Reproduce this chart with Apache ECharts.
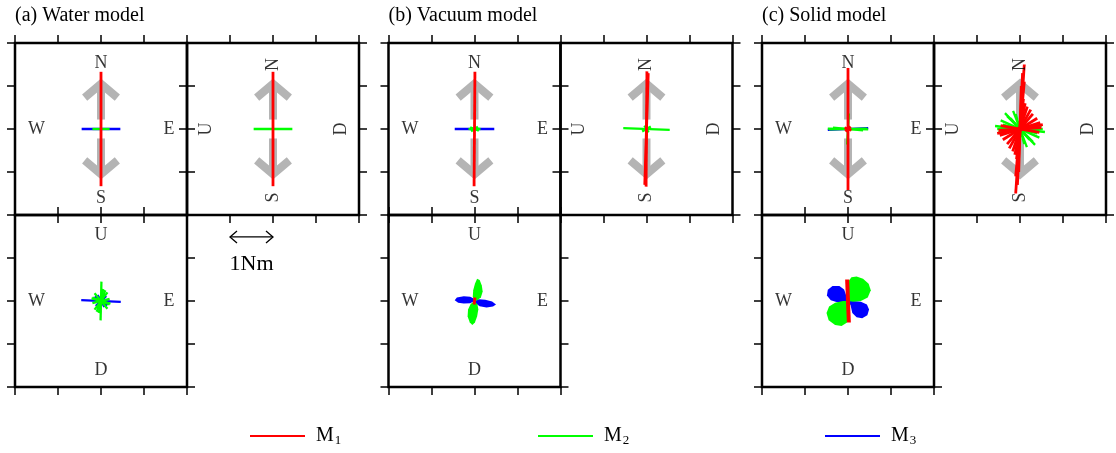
<!DOCTYPE html>
<html>
<head>
<meta charset="utf-8">
<script src="https://cdn.jsdelivr.net/npm/echarts@6/dist/echarts.min.js"></script>
<style>
  html, body { margin: 0; background: #fff; }
  #chart { width: 1116px; height: 453px; }
</style>
</head>
<body>
<div id="chart"></div>
<script>
// every vector is given in Nm, as one end of a segment drawn from -p to +p
// views: EN = E right / N up, DN = D right (U left) / N up, EU = E right / U up

// (a) water model
var waterEN_M1 = [[0, 1.33]];
var waterEN_M2 = [[0.2, 0]];
var waterEN_M3 = [[0.45, 0]];
var waterDN_M1 = [[0, 1.33]];
var waterDN_M2 = [[0.45, 0]];
var waterEU_M2 = [[0.01, 0.45], [0.2, 0.05], [0.15, 0.2], [-0.15, 0.18], [0.1, 0.25], [0.22, -0.06], [0.05, 0.28], [-0.2, 0.08]];
var waterEU_M3 = [[0.46, -0.02], [0.09, 0.16], [0.12, 0.12], [0.15, -0.1], [-0.08, 0.14]];

// (b) vacuum model
var vacuumEN_M1 = [[0.01, 1.33]];
var vacuumEN_M2 = [[0.14, 0], [0.08, 0.05], [0.1, -0.04]];
var vacuumEN_M3 = [[0.46, 0]];
var vacuumDN_M1 = [[0.01, 1.34], [0.04, 1.3]];
var vacuumDN_M2 = [[0.54, -0.02], [0.1, 0.06], [0.05, -0.08]];
var vacuumEU_M1 = [[0.01, 0.08]];
var vacuumEU_M2 = [
  [[0, 0], [-0.04, 0.1], [-0.03, 0.25], [0.01, 0.4], [0.06, 0.52], [0.12, 0.49], [0.17, 0.36], [0.19, 0.22], [0.15, 0.09], [0.07, 0.02]],
  [[0, 0], [0.07, -0.08], [0.09, -0.2], [0.06, -0.36], [0.01, -0.5], [-0.05, -0.56], [-0.11, -0.5], [-0.16, -0.36], [-0.15, -0.2], [-0.09, -0.07]]
];
var vacuumEU_M3 = [
  [[0, 0], [-0.1, -0.05], [-0.25, -0.06], [-0.38, -0.04], [-0.46, 0.02], [-0.41, 0.08], [-0.25, 0.11], [-0.1, 0.1], [-0.02, 0.06]],
  [[0, 0], [0.1, 0.04], [0.25, 0.03], [0.41, -0.01], [0.5, -0.08], [0.43, -0.13], [0.28, -0.15], [0.12, -0.12], [0.03, -0.06]]
];

// (c) solid model
var solidEN_M1 = [[0, 1.42], [0.06, 0.06], [0.08, -0.03]];
var solidEN_M2 = [[0.47, -0.01], [0.44, 0.01], [0.35, -0.03], [0.02, 0.36]];
var solidEN_M3 = [[0.47, 0.02]];
var solidDN_M1 = [[0.1, 1.5], [0.06, 1.3], [0.1, 1.1], [0.03, 1.0], [0.08, 0.7], [0.12, 0.6], [0.53, 0.1], [0.5, 0.03],
  [0.47, 0.15], [0.4, 0.25], [0.3, 0.35], [0.45, -0.08], [0.35, 0.05], [0.25, 0.45], [0.17, 0.52]];
var solidDN_M2 = [[0.58, -0.07], [0.53, 0], [0.35, -0.37], [0.3, -0.3], [0.16, -0.42], [0.45, -0.2], [0.5, 0.08],
  [0.22, -0.25], [0.4, -0.1], [0.1, -0.35]];
var solidEU_M1 = [[-0.02, 0.5]];
var solidEU_M2 = [
  [[0, 0], [-0.02, 0.2], [0, 0.45], [0.08, 0.55], [0.2, 0.57], [0.35, 0.52], [0.48, 0.4], [0.53, 0.25], [0.46, 0.08], [0.3, 0], [0.12, -0.02]],
  [[0, 0], [-0.12, 0], [-0.3, -0.04], [-0.44, -0.13], [-0.5, -0.28], [-0.45, -0.45], [-0.3, -0.56], [-0.15, -0.58], [-0.02, -0.5], [0.02, -0.3], [0.02, -0.1]]
];
var solidEU_M3 = [
  [[0, 0], [-0.1, -0.03], [-0.25, -0.03], [-0.4, 0.02], [-0.49, 0.13], [-0.47, 0.26], [-0.36, 0.35], [-0.2, 0.35], [-0.09, 0.27], [-0.04, 0.12]],
  [[0, 0], [0.06, -0.1], [0.1, -0.28], [0.2, -0.38], [0.33, -0.4], [0.45, -0.33], [0.49, -0.2], [0.44, -0.08], [0.3, -0.02], [0.12, 0]]
];

// applied N-S stress arrow: shaft start and tip (Nm units)
var stressArrow = [0.22, 1.05];
var scaleBarNm = 1;

var titles = ['(a) Water model', '(b) Vacuum model', '(c) Solid model'];
var legendNames = ['M1', 'M2', 'M3'];
var labelsEN = [['N', 0, 1.52], ['S', 0, -1.6], ['W', -1.5, 0], ['E', 1.58, 0]];
var labelsDN = [['N', 0, 1.5], ['S', 0, -1.59], ['U', -1.56, 0], ['D', 1.58, 0]];
var labelsEU = [['U', 0, 1.53], ['D', 0, -1.62], ['W', -1.5, 0], ['E', 1.58, 0]];

var FONT = 'Liberation Serif';
var RED = '#ff0000', GREEN = '#00ff00', BLUE = '#0000ff', GRAY = '#b4b4b4';
var groupLeft = [15, 388.5, 762];
var legendLeft = [245, 533, 820];
var size = 172;

var grids = [], xAxes = [], yAxes = [], series = [];

function axisBase(g, pos) {
  return {
    gridIndex: g, type: 'value', position: pos, min: -2, max: 2, interval: 1,
    axisLine: { show: false, onZero: false },
    axisTick: { show: true, inside: false, length: 8, lineStyle: { color: '#000', width: 1.5 } },
    axisLabel: { show: false },
    splitLine: { show: false }
  };
}

function addGrid(left, top) {
  var g = grids.length;
  grids.push({
    left: left, top: top, width: size, height: size,
    show: true, borderColor: '#000', borderWidth: 2.5,
    containLabel: false, outerBoundsMode: 'none'
  });
  xAxes.push(axisBase(g, 'bottom'), axisBase(g, 'top'));
  yAxes.push(axisBase(g, 'left'), axisBase(g, 'right'));
  return g;
}

function segs(name, g, data, color, width, z) {
  return {
    type: 'custom', name: name, xAxisIndex: 2 * g, yAxisIndex: 2 * g,
    data: data, z: z, silent: true, clip: false,
    itemStyle: { color: color },
    renderItem: function (params, api) {
      var x = api.value(0), y = api.value(1);
      var a = api.coord([-x, -y]), b = api.coord([x, y]);
      return {
        type: 'line',
        shape: { x1: a[0], y1: a[1], x2: b[0], y2: b[1] },
        style: { stroke: color, lineWidth: width }
      };
    }
  };
}

function lobes(name, g, polys, color, z) {
  return {
    type: 'custom', name: name, xAxisIndex: 2 * g, yAxisIndex: 2 * g,
    data: polys.map(function (p, i) { return [i, 0]; }), z: z, silent: true, clip: false,
    itemStyle: { color: color },
    renderItem: function (params, api) {
      var pts = polys[params.dataIndex].map(function (p) { return api.coord(p); });
      return { type: 'polygon', shape: { points: pts }, style: { fill: color } };
    }
  };
}

function stress(g) {
  return {
    type: 'custom', xAxisIndex: 2 * g, yAxisIndex: 2 * g, z: 1, silent: true, clip: false,
    data: [stressArrow],
    renderItem: function (params, api) {
      var from = api.value(0), tip = api.value(1);
      var children = [];
      [1, -1].forEach(function (s) {
        var p0 = api.coord([0, s * from]), p1 = api.coord([0, s * (tip - 0.05)]);
        children.push({ type: 'line', shape: { x1: p0[0], y1: p0[1], x2: p1[0], y2: p1[1] },
          style: { stroke: GRAY, lineWidth: 8 } });
        children.push({ type: 'polyline',
          shape: { points: [api.coord([-0.38, s * (tip - 0.32)]), api.coord([0, s * tip]), api.coord([0.38, s * (tip - 0.32)])] },
          style: { stroke: GRAY, lineWidth: 8, fill: null, lineJoin: 'miter' } });
      });
      return { type: 'group', children: children };
    }
  };
}

function labels(g, items, rotate) {
  return {
    type: 'scatter', xAxisIndex: 2 * g, yAxisIndex: 2 * g, symbolSize: 0, silent: true, z: 6,
    data: items.map(function (it) { return { value: [it[1], it[2]], label: { formatter: it[0] } }; }),
    label: { show: true, position: 'inside', rotate: rotate, color: '#000', fontFamily: FONT, fontSize: 18 }
  };
}

var models = [
  { EN: [waterEN_M1, waterEN_M2, waterEN_M3], DN: [waterDN_M1, waterDN_M2, []], EU: [[], waterEU_M2, waterEU_M3], lobes: null },
  { EN: [vacuumEN_M1, vacuumEN_M2, vacuumEN_M3], DN: [vacuumDN_M1, vacuumDN_M2, []], EU: [vacuumEU_M1, [], []], lobes: [vacuumEU_M2, vacuumEU_M3] },
  { EN: [solidEN_M1, solidEN_M2, solidEN_M3], DN: [solidDN_M1, solidDN_M2, []], EU: [solidEU_M1, [], []], lobes: [solidEU_M2, solidEU_M3] }
];
var colors = [RED, GREEN, BLUE];
var zs = [5, 4, 3];

models.forEach(function (m, i) {
  var x0 = groupLeft[i];
  var gEN = addGrid(x0, 43);
  var gDN = addGrid(x0 + size, 43);
  var gEU = addGrid(x0, 43 + size);

  series.push(stress(gEN), stress(gDN));
  [[gEN, m.EN], [gDN, m.DN], [gEU, m.EU]].forEach(function (pair) {
    pair[1].forEach(function (d, k) {
      if (!d.length) return;
      var w = k === 0 ? 2.8 : 2.3;
      if (pair[0] === gEU && k === 0) w = i === 2 ? 4 : 3;
      series.push(segs(legendNames[k], pair[0], d, colors[k], w, zs[k]));
    });
  });
  if (m.lobes) {
    series.push(lobes('M3', gEU, m.lobes[1], BLUE, 3));
    series.push(lobes('M2', gEU, m.lobes[0], GREEN, 4));
  }
  series.push(labels(gEN, labelsEN, 0), labels(gDN, labelsDN, 90), labels(gEU, labelsEU, 0));
});

// scale bar under the first N-S / U-D panel
series.push({
  type: 'custom', xAxisIndex: 2, yAxisIndex: 2, z: 6, silent: true, clip: false,
  data: [[scaleBarNm, 0]],
  renderItem: function (params, api) {
    var L = api.value(0);
    var a = api.coord([-1, -2.51]), b = api.coord([-1 + L, -2.51]), t = api.coord([-1 + L / 2, -3.15]);
    var st = { stroke: '#000', lineWidth: 1.3, fill: null };
    return { type: 'group', children: [
      { type: 'line', shape: { x1: a[0], y1: a[1], x2: b[0], y2: b[1] }, style: st },
      { type: 'polyline', shape: { points: [[a[0] + 7, a[1] - 6], a, [a[0] + 7, a[1] + 6]] }, style: st },
      { type: 'polyline', shape: { points: [[b[0] - 7, b[1] - 6], b, [b[0] - 7, b[1] + 6]] }, style: st },
      { type: 'text', x: t[0], y: t[1], style: { text: '1Nm', fontFamily: FONT, fontSize: 22, fill: '#000', align: 'center', verticalAlign: 'middle' } }
    ] };
  }
});

var chart = echarts.init(document.getElementById('chart'));
chart.setOption({
  animation: false,
  backgroundColor: '#fff',
  grid: grids,
  xAxis: xAxes,
  yAxis: yAxes,
  legend: legendNames.map(function (n, i) {
    return {
      data: [n], left: legendLeft[i], top: 421, icon: 'rect', itemWidth: 55, itemHeight: 2,
      selectedMode: false,
      formatter: function (s) { return '{m|M}{s|' + s.slice(1) + '}'; },
      textStyle: {
        padding: [0, 0, 0, 6],
        rich: {
          m: { fontFamily: FONT, fontSize: 20, color: '#000' },
          s: { fontFamily: FONT, fontSize: 13, color: '#000', padding: [10, 0, 0, 1] }
        }
      }
    };
  }),
  graphic: titles.map(function (t, i) {
    return { type: 'text', left: groupLeft[i], top: 6, style: { text: t, fontFamily: FONT, fontSize: 20, fill: '#000' } };
  }),
  series: series
});
</script>
</body>
</html>
